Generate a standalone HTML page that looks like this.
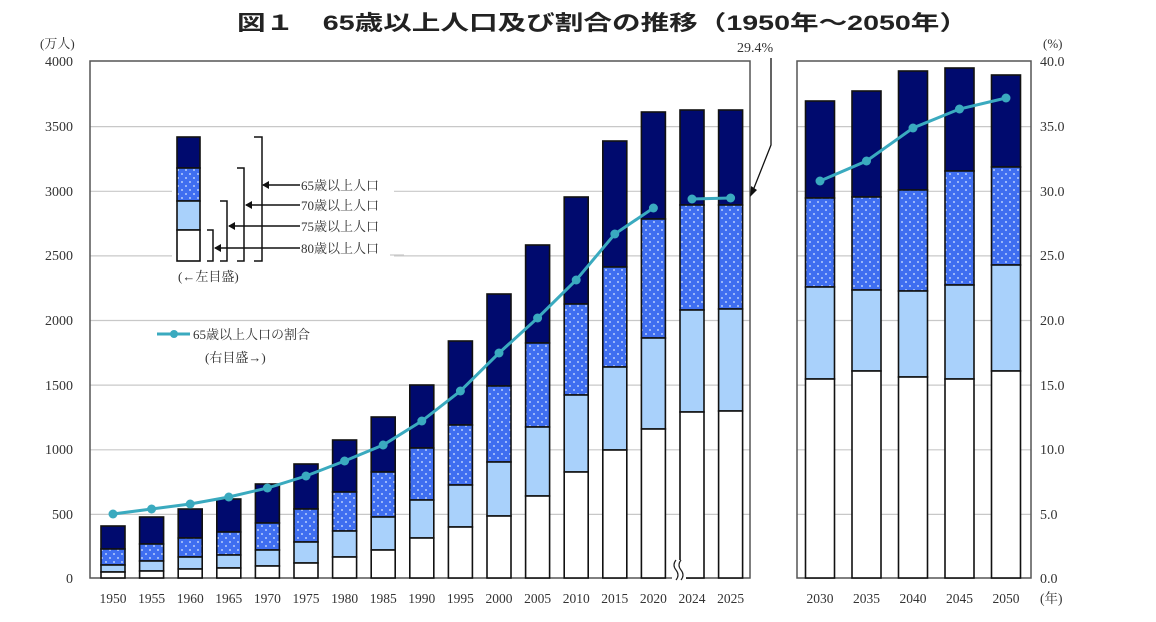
<!DOCTYPE html>
<html><head><meta charset="utf-8"><style>
html,body{margin:0;padding:0;background:#fff;}
svg{display:block;font-family:"Liberation Serif","Noto Serif CJK SC",serif;}
</style></head><body>
<svg width="1156" height="622" viewBox="0 0 1156 622" xmlns="http://www.w3.org/2000/svg">
<defs>
<pattern id="dots" width="8" height="8" patternUnits="userSpaceOnUse">
<rect width="8" height="8" fill="#3f6ef0"/>
<circle cx="2" cy="2" r="1" fill="#b8cdfc"/>
<circle cx="6" cy="6" r="1" fill="#b8cdfc"/>
</pattern>
</defs>
<text x="237" y="30" font-family="Liberation Sans,'Noto Sans CJK JP',sans-serif" font-size="21" font-weight="bold" textLength="731" lengthAdjust="spacingAndGlyphs" fill="#222">図１　65歳以上人口及び割合の推移（1950年～2050年）</text>
<g font-size="13" fill="#333">
<text x="40" y="48">(万人)</text>
<text x="1043" y="48">(%)</text>
</g>
<g id="grid" stroke="#c8c8c8" stroke-width="1.2">
<line x1="90" x2="750" y1="126.6" y2="126.6"/><line x1="90" x2="750" y1="191.3" y2="191.3"/><line x1="90" x2="750" y1="255.9" y2="255.9"/><line x1="90" x2="750" y1="320.5" y2="320.5"/><line x1="90" x2="750" y1="385.1" y2="385.1"/><line x1="90" x2="750" y1="449.8" y2="449.8"/><line x1="90" x2="750" y1="514.4" y2="514.4"/>
<line x1="797" x2="1031" y1="126.6" y2="126.6"/><line x1="797" x2="1031" y1="191.3" y2="191.3"/><line x1="797" x2="1031" y1="255.9" y2="255.9"/><line x1="797" x2="1031" y1="320.5" y2="320.5"/><line x1="797" x2="1031" y1="385.1" y2="385.1"/><line x1="797" x2="1031" y1="449.8" y2="449.8"/><line x1="797" x2="1031" y1="514.4" y2="514.4"/>
</g>
<g stroke="#555" stroke-width="1.5" fill="none">
<rect x="90" y="61" width="660" height="517"/>
<rect x="797" y="61" width="234" height="517"/>
</g>
<g font-size="14" fill="#333" text-anchor="end">
<text x="73" y="66">4000</text><text x="73" y="131">3500</text><text x="73" y="196">3000</text><text x="73" y="260">2500</text><text x="73" y="325">2000</text><text x="73" y="390">1500</text><text x="73" y="454">1000</text><text x="73" y="519">500</text><text x="73" y="583">0</text>
</g>
<g font-size="14" fill="#333">
<text x="1040" y="66">40.0</text><text x="1040" y="131">35.0</text><text x="1040" y="196">30.0</text><text x="1040" y="260">25.0</text><text x="1040" y="325">20.0</text><text x="1040" y="390">15.0</text><text x="1040" y="454">10.0</text><text x="1040" y="519">5.0</text><text x="1040" y="583">0.0</text>
</g>
<g id="bars" stroke="#111" stroke-width="1.6"></g>
<g font-size="13.5" fill="#333" text-anchor="middle" id="xl"></g>
<text x="1040" y="603" font-size="13.5" fill="#333">(年)</text>
<rect x="672" y="560" width="14" height="22" fill="#fff"/>
<path d="M676 560 q-4 5 0 10 q4 5 0 10 M681 560 q-4 5 0 10 q4 5 0 10" stroke="#222" fill="none" stroke-width="1.2"/>
<polyline id="l1" fill="none" stroke="#3aaabf" stroke-width="3"/>
<polyline id="l2" fill="none" stroke="#3aaabf" stroke-width="3"/>
<polyline id="l3" fill="none" stroke="#3aaabf" stroke-width="3"/>
<g id="pts" fill="#3aaabf"></g>
<text x="737" y="52" font-size="14" fill="#333">29.4%</text>
<path d="M771 58 L771 145 L752 193" stroke="#111" fill="none" stroke-width="1.3"/>
<path d="M750 197 L751 186 L757 190 Z" fill="#111"/>
<rect x="172" y="128" width="222" height="158" fill="#fff"/>
<g stroke="#111" stroke-width="1.6">
<rect x="177" y="137" width="23" height="31" fill="#000a6e"/>
<rect x="177" y="168" width="23" height="33" fill="url(#dots)"/>
<rect x="177" y="201" width="23" height="29" fill="#a9d1fb"/>
<rect x="177" y="230" width="23" height="31" fill="#fff"/>
</g>
<g stroke="#111" stroke-width="1.5" fill="none">
<path d="M207 230 h6 v31 h-6"/><path d="M220 201 h7 v60 h-7"/><path d="M237 168 h7 v93 h-7"/><path d="M254 137 h8 v124 h-8"/>
<path d="M300 185 H263 M300 205 H246 M300 226 H229 M300 248 H215"/>
</g>
<line x1="390" x2="404" y1="255" y2="255" stroke="#c8c8c8" stroke-width="1.2"/>
<g fill="#111"><path d="M262 185 l7 -4 v8z"/><path d="M245 205 l7 -4 v8z"/><path d="M228 226 l7 -4 v8z"/><path d="M214 248 l7 -4 v8z"/></g>
<g font-size="13" fill="#333">
<text x="301" y="190">65歳以上人口</text><text x="301" y="210">70歳以上人口</text><text x="301" y="231">75歳以上人口</text><text x="301" y="253">80歳以上人口</text>
<text x="178" y="281">(←左目盛)</text>
<text x="193" y="339">65歳以上人口の割合</text>
<text x="205" y="362">(右目盛→)</text>
</g>
<line x1="157" x2="190" y1="334" y2="334" stroke="#3aaabf" stroke-width="3"/>
<circle cx="174" cy="334" r="4" fill="#3aaabf"/>
<script>
var L=[[1950,526,549,565,572],[1955,517,544,561,571],[1960,509,538,557,569],[1965,499,532,555,568],[1970,484,523,550,566],[1975,464,509,542,563],[1980,440,492,531,557],[1985,417,472,517,550],[1990,385,448,500,538],[1995,341,425,485,527],[2000,294,386,462,516],[2005,245,343,427,496],[2010,197,304,395,472],[2015,141,267,367,450],[2020,112,219,338,429],[2024,110,205,310,412],[2025,110,205,309,411]];
var R=[[2030,101,198,287,379],[2035,91,197,290,371],[2040,71,190,291,377],[2045,68,171,285,379],[2050,75,167,265,371]];
var LP=[514,509,504,497,488,476,461,445,421,391,353,318,280,234,208,199,198];
var RP=[181,161,128,109,98];
var ns="http://www.w3.org/2000/svg",g=document.getElementById('bars'),xl=document.getElementById('xl'),pts=document.getElementById('pts');
function rect(x,y,w,h,f){var r=document.createElementNS(ns,'rect');r.setAttribute('x',x);r.setAttribute('y',y);r.setAttribute('width',w);r.setAttribute('height',h);r.setAttribute('fill',f);g.appendChild(r);}
function bar(cx,w,d){var x=cx-w/2;rect(x,d[1],w,d[2]-d[1],'#000a6e');rect(x,d[2],w,d[3]-d[2],'url(#dots)');rect(x,d[3],w,d[4]-d[3],'#a9d1fb');rect(x,d[4],w,578-d[4],'#fff');
var t=document.createElementNS(ns,'text');t.setAttribute('x',cx);t.setAttribute('y',603);t.textContent=d[0];xl.appendChild(t);}
function pt(x,y){var c=document.createElementNS(ns,'circle');c.setAttribute('cx',x);c.setAttribute('cy',y);c.setAttribute('r',4.5);pts.appendChild(c);}
var p1=[],p2=[],p3=[];
L.forEach(function(d,i){var cx=113+i*38.6;bar(cx,24,d);if(i<15)p1.push(cx+','+LP[i]);else p2.push(cx+','+LP[i]);pt(cx,LP[i]);});
R.forEach(function(d,i){var cx=820+i*46.5;bar(cx,29,d);p3.push(cx+','+RP[i]);pt(cx,RP[i]);});
document.getElementById('l1').setAttribute('points',p1.join(' '));
document.getElementById('l2').setAttribute('points',p2.join(' '));
document.getElementById('l3').setAttribute('points',p3.join(' '));
</script>
</svg>
</body></html>
